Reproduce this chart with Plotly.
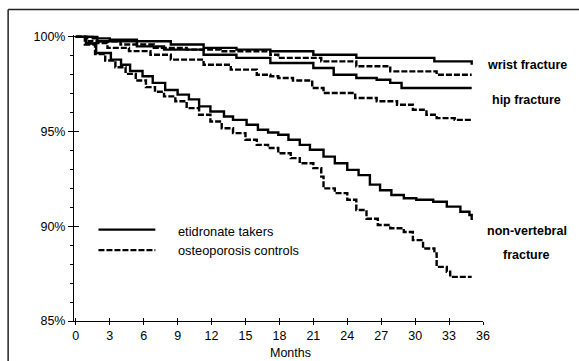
import plotly.graph_objects as go

# ---------------- data ----------------
wrist_eti_m = [0, 1.5, 3.0, 5.4, 8.4, 11.3, 14.2, 17.2, 21.0, 24.8, 31.7, 35.0]
wrist_eti_v = [100, 99.92, 99.85, 99.77, 99.6, 99.42, 99.33, 99.24, 99.06, 98.89, 98.71, 98.53]

wrist_ctl_m = [0, 1.0, 3.95, 6.9, 9.8, 12.8, 17.2, 17.9, 21.7, 24.8, 27.8, 31.9, 35.0]
wrist_ctl_v = [100, 99.77, 99.6, 99.42, 99.33, 99.24, 99.06, 98.89, 98.71, 98.45, 98.18, 98.0, 98.0]

hip_eti_m = [0, 1.9, 5.4, 7.8, 11.3, 14.2, 17.2, 21.0, 22.8, 24.8, 26.6, 27.8, 28.8, 35.0]
hip_eti_v = [100, 99.77, 99.5, 99.33, 99.06, 98.89, 98.62, 98.36, 98.0, 97.83, 97.74, 97.57, 97.3, 97.3]

hip_ctl_m = [0, 0.85, 2.8, 4.7, 6.6, 8.4, 11.3, 13.7, 16.0, 17.2, 17.9, 19.2, 20.9, 21.9, 24.7, 26.6, 28.4, 29.8, 31.0, 31.9, 33.5, 35.0]
hip_ctl_v = [100, 99.67, 99.42, 99.25, 99.06, 98.8, 98.53, 98.27, 98.0, 97.92, 97.83, 97.7, 97.3, 97.04, 96.77, 96.6, 96.42, 96.15, 95.89, 95.71, 95.62, 95.62]

nv_eti_m = [0, 0.9, 1.8, 3.1, 4.0, 4.8, 5.9, 6.8, 7.9, 9.0, 10.0, 10.9, 11.9, 13.1, 13.9, 15.1, 16.1, 17.0,
            17.9, 18.8, 19.8, 20.7, 21.9, 22.9, 24.0, 25.0, 26.0, 26.9, 27.9, 29.0, 30.1, 31.6, 32.8, 34.0, 34.8, 35.0]
nv_eti_v = [100, 99.65, 99.15, 98.8, 98.53, 98.2, 97.92, 97.57, 97.2, 96.95, 96.7, 96.33, 96.06, 95.8, 95.62, 95.36, 95.1, 94.95,
            94.83, 94.57, 94.3, 94.04, 93.68, 93.33, 92.98, 92.7, 92.2, 91.9, 91.65, 91.48, 91.4, 91.3, 91.04, 90.77, 90.6, 90.33]

nv_ctl_m = [0, 0.8, 1.7, 2.6, 3.5, 4.4, 5.3, 6.2, 7.0, 7.8, 8.8, 9.8, 10.9, 11.9, 12.9, 13.9, 15.0, 16.0, 17.0,
            17.9, 19.0, 19.8, 21.0, 21.7, 21.9, 22.9, 24.0, 24.8, 25.7, 26.7, 27.8, 29.0, 29.8, 30.7, 31.7, 31.9, 32.8, 33.1, 35.0]
nv_ctl_v = [100, 99.6, 99.1, 98.75, 98.4, 98.05, 97.7, 97.35, 97.1, 96.86, 96.6, 96.24, 95.89, 95.53, 95.18, 94.92, 94.57, 94.3, 94.13,
            93.86, 93.6, 93.33, 93.07, 92.62, 92.0, 91.75, 91.4, 90.86, 90.4, 90.07, 89.9, 89.7, 89.27, 88.83, 88.57, 87.86, 87.6, 87.33, 87.33]

x_ticks = list(range(0, 37, 3))
y_ticks = [85, 90, 95, 100]
y_tick_text = ["85%", "90%", "95%", "100%"]
series_names = ["etidronate takers", "osteoporosis controls"]
group_labels = ["wrist fracture", "hip fracture", "non-vertebral", "fracture"]

# ---------------- figure ----------------
FONT = "Liberation Sans, Arial, sans-serif"
W, H = 579, 361
L, R, T, B = 73.5, 483.3, 35.4, 320.7

fig = go.Figure()
SOLID = dict(color="black", width=2.4, shape="hv")
DASH = dict(color="black", width=2.4, shape="hv", dash="6px,2px")

for m, v, st in [(wrist_eti_m, wrist_eti_v, SOLID), (wrist_ctl_m, wrist_ctl_v, DASH),
                 (hip_eti_m, hip_eti_v, SOLID), (hip_ctl_m, hip_ctl_v, DASH),
                 (nv_eti_m, nv_eti_v, SOLID), (nv_ctl_m, nv_ctl_v, DASH)]:
    fig.add_trace(go.Scatter(x=m, y=v, mode="lines", line=st, showlegend=False, hoverinfo="skip"))

# empty trace to carry the overlay axes (crossing ticks)
fig.add_trace(go.Scatter(x=[], y=[], xaxis="x2", yaxis="y2", showlegend=False))

xr = [-0.16, 36]
yr = [85, 100.1]

fig.update_layout(
    width=W, height=H,
    margin=dict(l=L, r=W - R, t=T, b=H - B, pad=0),
    paper_bgcolor="white", plot_bgcolor="white",
    font=dict(family=FONT, size=12, color="black"),
    hovermode=False,
    xaxis=dict(range=xr, tickvals=x_ticks, ticks="outside", ticklen=3, tickwidth=1, tickcolor="black",
               showline=True, linecolor="black", linewidth=1, showgrid=False, zeroline=False,
               tickfont=dict(size=12.5, family=FONT), fixedrange=True),
    xaxis2=dict(range=xr, overlaying="x", anchor="y", side="bottom", tickvals=x_ticks, ticks="inside",
                ticklen=3, tickwidth=1, tickcolor="black", showticklabels=False, showline=False,
                showgrid=False, zeroline=False, matches="x"),
    yaxis=dict(range=yr, tickvals=y_ticks, ticktext=y_tick_text, ticks="outside", ticklen=5, tickwidth=1,
               tickcolor="black", showline=True, linecolor="black", linewidth=1, showgrid=False,
               zeroline=False, tickfont=dict(size=12.5, family=FONT),
               minor=dict(dtick=1, tick0=85, ticks="outside", ticklen=3, tickcolor="black", tickwidth=1)),
    yaxis2=dict(range=yr, overlaying="y", anchor="x", side="left", tickvals=y_ticks, ticks="inside",
                ticklen=5, tickwidth=1, tickcolor="black", showticklabels=False, showline=False,
                showgrid=False, zeroline=False, matches="y"),
)

def px_x(p):
    return (p - L) / (R - L)

def px_y(p):
    return (B - p) / (B - T)

# frame around the figure
fig.add_shape(type="line", xref="paper", yref="paper", x0=px_x(7.5), x1=px_x(585), y0=px_y(10), y1=px_y(10),
              line=dict(color="#222", width=1.5))
fig.add_shape(type="line", xref="paper", yref="paper", x0=px_x(7.5), x1=px_x(7.5), y0=px_y(10), y1=px_y(365),
              line=dict(color="#222", width=1.5))

# legend (manual)
fig.add_shape(type="line", xref="paper", yref="paper", x0=px_x(98), x1=px_x(155), y0=px_y(229.5), y1=px_y(229.5),
              line=dict(color="black", width=2.4))
fig.add_shape(type="line", xref="paper", yref="paper", x0=px_x(98), x1=px_x(155), y0=px_y(250), y1=px_y(250),
              line=dict(color="black", width=2.4, dash="6px,2px"))
fig.add_annotation(text=series_names[0], xref="paper", yref="paper", x=px_x(176), y=px_y(231),
                   xanchor="left", yanchor="middle", showarrow=False, font=dict(size=12.8, family=FONT))
fig.add_annotation(text=series_names[1], xref="paper", yref="paper", x=px_x(176), y=px_y(250),
                   xanchor="left", yanchor="middle", showarrow=False, font=dict(size=12.8, family=FONT))

# group labels
for txt, py in zip(group_labels, [65.7, 100, 231, 255]):
    fig.add_annotation(text="<b>" + txt + "</b>", xref="paper", yref="paper", x=px_x(527), y=px_y(py),
                       xanchor="center", yanchor="middle", showarrow=False, font=dict(size=12.5, family=FONT))

# axis title
fig.add_annotation(text="Months", xref="paper", yref="paper", x=px_x(290), y=px_y(353),
                   xanchor="center", yanchor="middle", showarrow=False, font=dict(size=12.5, family=FONT))

fig.write_html("out.html", config={"displayModeBar": False, "staticPlot": True},
               post_script="document.body.style.margin='0';document.body.style.overflow='hidden';")
